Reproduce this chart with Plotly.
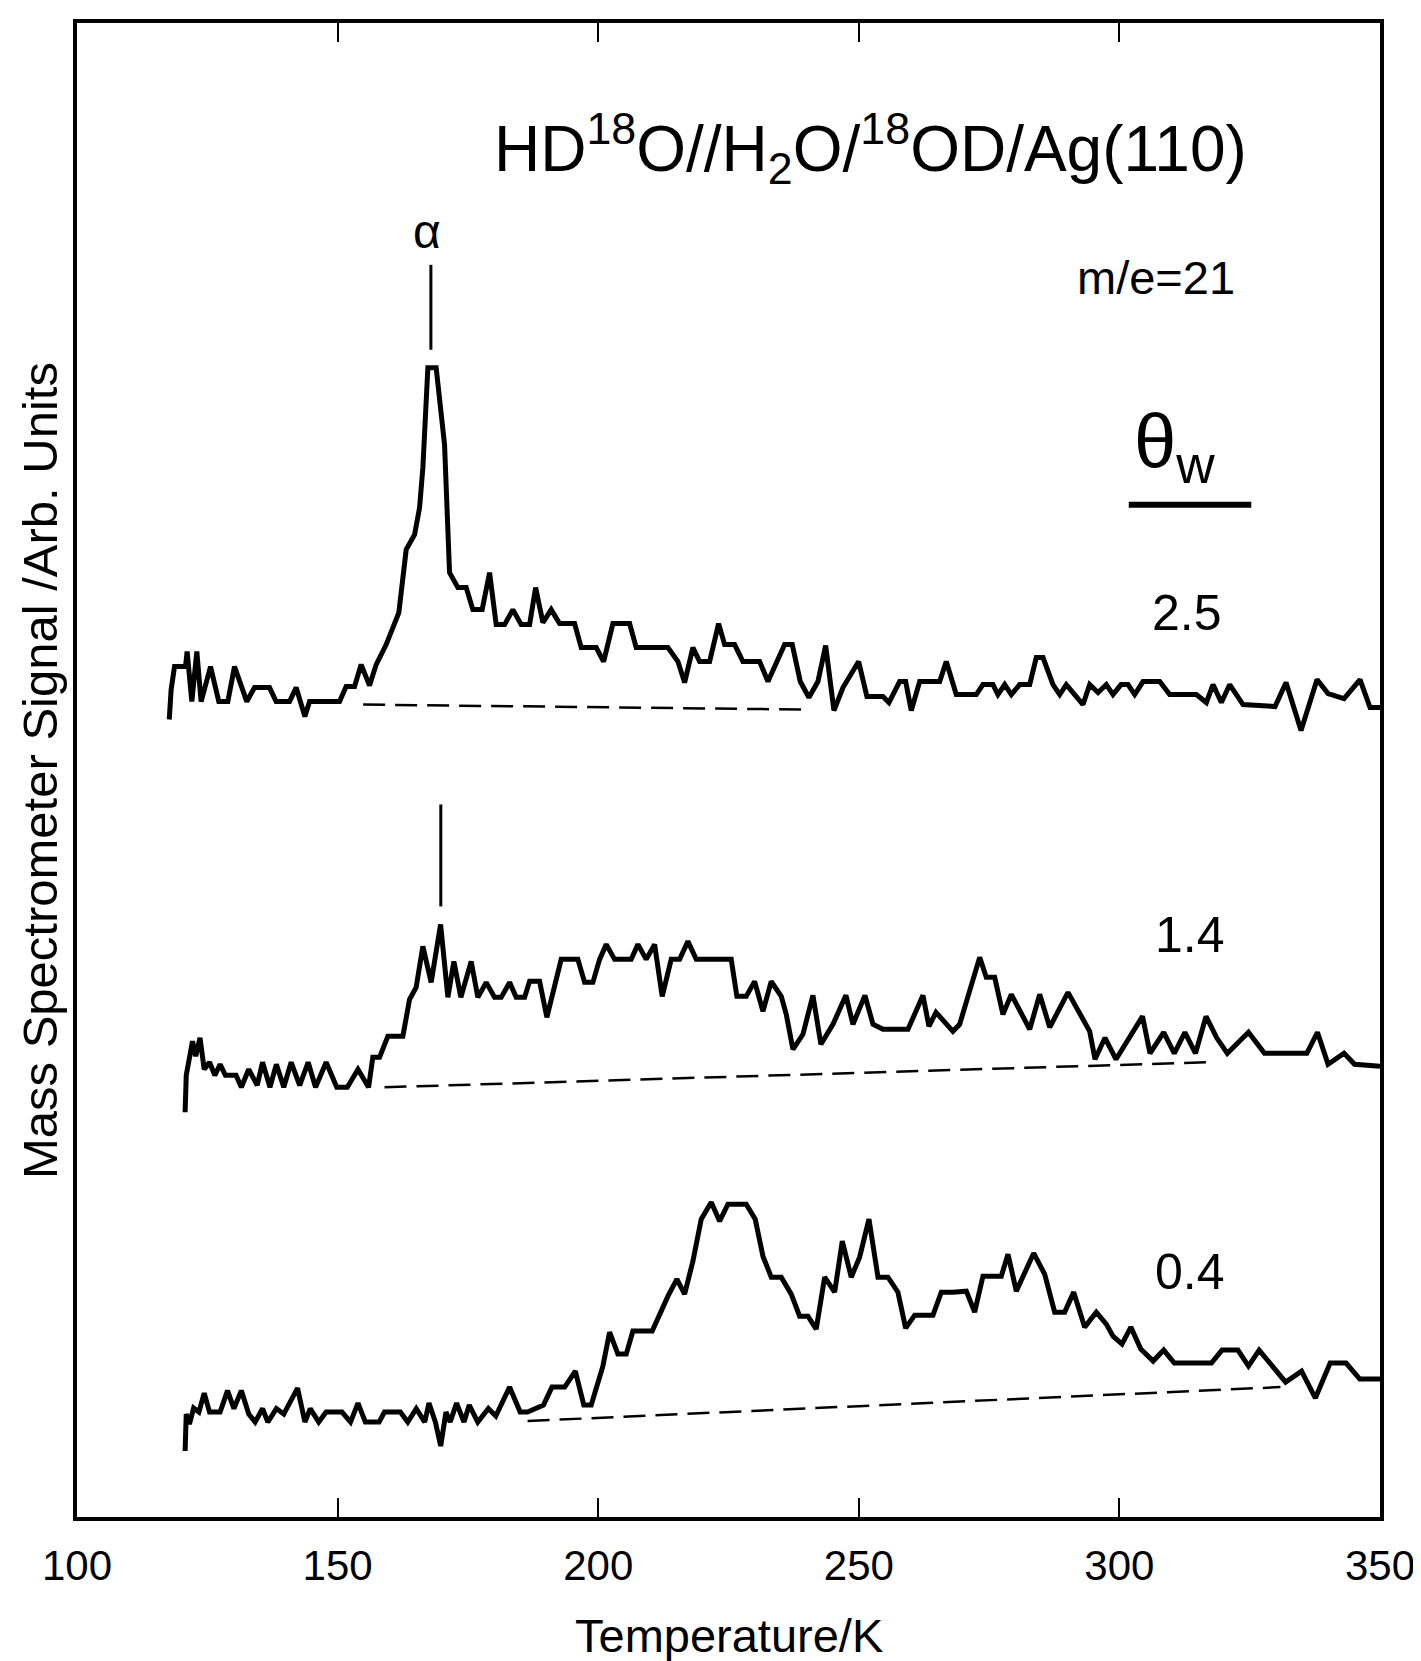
import plotly.graph_objects as go

# ---------------- data (Temperature / K, signal / arb. units) ----------------
# theta_w = 2.5
T1 = [117.7, 118.06, 118.71, 120.82, 121.13, 122.03, 122.99, 123.81, 125.62, 127.21,
      128.94, 130.22, 132.58, 134.06, 136.94, 138.21, 140.78, 142.05, 143.72, 144.62,
      150.37, 151.64, 153.25, 154.52, 156.13, 157.40, 159.32, 160.60, 161.75, 163.16,
      164.77, 165.73, 166.36, 167.32, 168.91, 170.52, 171.48, 173.08, 174.67, 175.95,
      177.74, 179.16, 180.43, 182.04, 183.63, 185.22, 186.84, 187.99, 189.39, 190.98,
      192.59, 195.47, 196.74, 199.62, 201.04, 202.82, 206.03, 207.29, 213.38, 215.30,
      216.58, 218.17, 219.46, 221.38, 223.10, 224.26, 226.17, 227.77, 230.97, 232.57,
      234.16, 235.77, 237.23, 238.77, 240.43, 242.16, 243.64, 245.23, 246.96, 249.97,
      251.56, 254.63, 255.78, 257.84, 258.99, 260.07, 261.68, 265.52, 266.78, 268.70,
      272.54, 273.82, 275.74, 276.70, 277.99, 279.26, 280.87, 282.79, 284.05, 285.34,
      287.26, 288.55, 289.81, 291.73, 293.02, 294.30, 295.90, 297.49, 298.77, 300.31,
      301.65, 302.94, 304.53, 307.74, 309.65, 314.76, 316.68, 317.96, 319.56, 321.17,
      322.76, 323.72, 329.86, 331.97, 334.85, 337.92, 340.03, 343.10, 346.17, 348.09,
      350.0]
S1 = [79.8, 82.8, 85.1, 85.1, 86.6, 81.6, 86.6, 81.6, 85.1, 81.6,
      81.6, 85.1, 81.6, 83.0, 83.0, 81.6, 81.6, 83.0, 80.1, 81.6,
      81.6, 83.1, 83.1, 85.3, 83.2, 85.3, 87.3, 89.0, 90.5, 96.8,
      98.3, 101.0, 105.0, 115.0, 115.0, 107.3, 94.5, 93.0, 93.0, 90.8,
      90.8, 94.5, 89.3, 89.3, 90.8, 89.3, 89.3, 93.0, 89.5, 90.8,
      89.4, 89.4, 87.0, 87.0, 85.6, 89.4, 89.4, 87.0, 87.0, 85.6,
      83.5, 87.0, 85.6, 85.6, 89.4, 87.3, 87.3, 85.6, 85.6, 83.6,
      85.6, 87.3, 87.3, 83.6, 82.0, 83.6, 87.2, 80.7, 83.0, 85.6,
      82.1, 82.1, 81.5, 83.6, 83.6, 80.7, 83.6, 83.6, 85.6, 82.3,
      82.3, 83.3, 83.3, 82.3, 83.3, 82.3, 83.3, 83.3, 86.0, 86.0,
      83.3, 82.3, 83.3, 82.1, 81.3, 83.3, 82.5, 83.3, 82.3, 83.3,
      83.3, 82.3, 83.6, 83.6, 82.3, 82.3, 81.5, 83.3, 81.5, 83.3,
      82.1, 81.3, 81.1, 83.5, 78.7, 83.8, 82.4, 81.9, 83.8, 81.0,
      81.0]

# theta_w = 1.4
T2 = [120.74, 120.96, 122.16, 122.78, 123.60, 124.41, 125.43, 126.44, 127.46, 128.48,
      130.51, 131.53, 132.95, 134.58, 135.60, 137.02, 138.25, 139.67, 141.09, 142.72,
      144.35, 145.77, 147.80, 149.84, 151.87, 153.91, 155.94, 156.76, 158.05, 159.64,
      162.52, 163.81, 165.07, 166.36, 167.95, 169.76, 171.16, 172.31, 173.65, 175.63,
      176.91, 178.51, 180.12, 181.39, 183.00, 184.26, 185.88, 186.84, 188.75, 190.15,
      192.90, 196.10, 197.39, 198.98, 200.27, 201.54, 203.15, 206.33, 207.62, 209.21,
      210.82, 212.28, 214.01, 215.62, 217.21, 218.81, 225.52, 226.61, 228.40, 230.01,
      231.61, 233.20, 235.12, 236.08, 237.36, 239.28, 241.20, 242.73, 245.04, 247.53,
      248.88, 251.18, 252.72, 254.64, 259.44, 262.31, 263.46, 264.81, 268.06, 269.35,
      273.19, 274.46, 276.07, 277.66, 279.26, 282.79, 284.71, 286.63, 290.14, 294.30,
      295.32, 297.24, 299.35, 304.43, 305.87, 308.50, 310.53, 312.57, 314.60, 316.62,
      318.67, 320.71, 324.77, 327.83, 335.96, 338.00, 340.03, 343.10, 345.12, 350.0]
S2 = [40.5, 44.2, 47.6, 46.1, 47.95, 44.8, 45.5, 44.2, 45.3, 44.2,
      44.2, 43.0, 44.8, 43.2, 45.5, 43.0, 45.3, 43.0, 45.5, 43.2,
      45.5, 43.0, 45.5, 43.0, 43.0, 44.8, 43.0, 46.0, 46.0, 48.1,
      48.1, 51.8, 53.0, 57.1, 53.5, 59.3, 52.0, 55.6, 52.0, 55.6,
      52.0, 53.5, 52.0, 52.0, 53.5, 52.0, 52.0, 53.6, 53.6, 50.0,
      55.8, 55.8, 53.5, 53.5, 55.8, 57.3, 55.8, 55.8, 57.3, 55.8,
      57.3, 52.1, 55.8, 55.8, 57.6, 55.8, 55.8, 52.1, 52.1, 53.6,
      50.6, 53.6, 52.1, 50.3, 46.8, 48.3, 52.2, 47.3, 49.3, 52.2,
      49.3, 52.2, 49.3, 48.8, 48.8, 52.2, 49.1, 50.5, 48.6, 49.3,
      56.0, 54.0, 54.0, 50.3, 52.3, 48.8, 52.3, 49.0, 52.5, 48.6,
      45.8, 47.95, 45.8, 50.1, 46.4, 48.5, 46.4, 48.5, 46.4, 50.1,
      47.95, 46.4, 48.5, 46.4, 46.4, 48.5, 45.3, 46.4, 45.3, 45.1]

# theta_w = 0.4
T3 = [120.74, 120.96, 121.57, 122.38, 123.39, 124.41, 125.43, 127.46, 128.88, 130.11,
      131.53, 132.95, 134.18, 135.60, 136.61, 138.25, 139.67, 141.09, 142.31, 143.73,
      144.75, 146.38, 147.80, 150.85, 152.48, 153.91, 155.33, 157.97, 158.99, 162.04,
      163.46, 165.09, 166.72, 167.53, 168.76, 169.78, 170.79, 171.60, 172.83, 174.25,
      175.26, 176.90, 178.93, 180.35, 183.00, 185.03, 186.45, 189.50, 191.13, 193.57,
      195.61, 197.24, 198.66, 200.9, 202.19, 203.78, 205.38, 206.66, 210.36, 213.38,
      215.10, 216.58, 218.17, 219.77, 221.69, 223.30, 224.89, 228.40, 230.13, 231.61,
      233.20, 235.12, 237.04, 238.65, 240.24, 241.83, 243.45, 245.37, 246.83, 248.55,
      250.16, 251.95, 253.68, 255.59, 257.51, 258.99, 260.72, 264.23, 265.83, 268.06,
      270.63, 272.23, 273.82, 277.34, 278.62, 280.22, 283.55, 285.66, 287.58, 289.50,
      291.23, 293.34, 295.57, 297.49, 298.77, 300.5, 302.2, 304.1, 306.47, 308.50,
      310.53, 317.66, 319.69, 322.74, 324.77, 326.81, 330.47, 331.89, 334.95, 337.60,
      340.44, 343.49, 346.13, 350.0]
S3 = [6.6, 10.3, 9.3, 10.9, 10.5, 12.4, 10.5, 10.5, 12.65, 10.85,
      12.65, 10.3, 9.5, 10.85, 9.5, 10.85, 10.3, 11.6, 12.9, 9.5,
      10.85, 9.5, 10.5, 10.5, 9.5, 11.4, 9.5, 9.5, 10.5, 10.5,
      9.5, 10.85, 9.5, 11.4, 9.5, 7.1, 10.5, 9.5, 11.4, 9.5,
      11.2, 9.5, 10.85, 10.1, 13.0, 10.5, 10.5, 11.2, 13.0, 13.0,
      14.6, 11.2, 11.2, 15.1, 18.5, 16.3, 16.3, 18.6, 18.6, 22.1,
      23.8, 22.3, 25.6, 29.8, 31.5, 29.6, 31.3, 31.3, 29.8, 26.1,
      24.0, 24.0, 22.3, 20.1, 20.1, 18.8, 24.0, 22.5, 27.6, 24.0,
      26.0, 29.8, 24.0, 24.0, 22.5, 18.9, 20.2, 20.2, 22.5, 22.5,
      22.6, 20.5, 24.1, 24.1, 26.3, 22.6, 26.4, 24.3, 20.5, 20.5,
      22.5, 19.0, 20.5, 19.3, 18.1, 17.3, 19.0, 16.8, 15.6, 16.7,
      15.4, 15.4, 16.7, 16.7, 15.1, 16.7, 14.4, 13.5, 14.6, 11.9,
      15.4, 15.4, 13.8, 13.8]

# dashed background lines (start/end)
BASE_T = [[154.9, 239.3], [159.0, 316.6], [186.45, 330.9]]
BASE_S = [[81.3, 80.8], [43.0, 45.5], [9.6, 13.0]]

# alpha peak markers
MARK_T = [167.9, 169.8]
MARK_S = [[116.8, 125.3], [61.1, 71.3]]

COVERAGES = ["2.5", "1.4", "0.4"]
COV_T = [313.0, 313.6, 313.6]
COV_S = [90.5, 58.2, 24.5]

X_TICKS = [100, 150, 200, 250, 300, 350]

FONT = "Liberation Sans, Arial, Helvetica, sans-serif"

fig = go.Figure()

for T, S in [(T1, S1), (T2, S2), (T3, S3)]:
    fig.add_trace(go.Scatter(x=T, y=S, mode="lines",
                             line=dict(color="black", width=5),
                             showlegend=False, hoverinfo="skip"))

for bt, bs in zip(BASE_T, BASE_S):
    fig.add_trace(go.Scatter(x=bt, y=bs, mode="lines",
                             line=dict(color="black", width=2.5, dash="22px,10px"),
                             showlegend=False, hoverinfo="skip"))

for mt, ms in zip(MARK_T, MARK_S):
    fig.add_trace(go.Scatter(x=[mt, mt], y=ms, mode="lines",
                             line=dict(color="black", width=3),
                             showlegend=False, hoverinfo="skip"))

annotations = [
    dict(text="HD<sup>18</sup>O//H<sub>2</sub>O/<sup>18</sup>OD/Ag(110)",
         x=252.3, y=137.0, xref="x", yref="y", showarrow=False,
         font=dict(size=64, color="black", family=FONT), xanchor="center", yanchor="middle"),
    dict(text="α", x=167.1, y=128.6, xref="x", yref="y", showarrow=False,
         font=dict(size=48, color="black", family=FONT), xanchor="center", yanchor="middle"),
    dict(text="m/e=21", x=307.0, y=124.0, xref="x", yref="y", showarrow=False,
         font=dict(size=47, color="black", family=FONT), xanchor="center", yanchor="middle"),
    dict(text="θ<sub>w</sub>", x=310.5, y=107.2, xref="x", yref="y", showarrow=False,
         font=dict(size=76, color="black", family=FONT), xanchor="center", yanchor="middle"),
    dict(text="Temperature/K", x=0.5, y=-0.079, xref="paper", yref="paper", showarrow=False,
         font=dict(size=47, color="black", family=FONT), xanchor="center", yanchor="middle"),
    dict(text="Mass Spectrometer Signal /Arb. Units", x=-0.0284, y=0.5,
         xref="paper", yref="paper", showarrow=False, textangle=-90,
         font=dict(size=49, color="black", family=FONT), xanchor="center", yanchor="middle"),
]
for lab, ct, cs in zip(COVERAGES, COV_T, COV_S):
    annotations.append(dict(text=lab, x=ct, y=cs, xref="x", yref="y", showarrow=False,
                            font=dict(size=50, color="black", family=FONT),
                            xanchor="center", yanchor="middle"))

fig.update_layout(
    width=1421, height=1661,
    margin=dict(l=69, r=49, t=15, b=152),
    paper_bgcolor="white", plot_bgcolor="white",
    font=dict(family=FONT, color="black"),
    annotations=annotations,
    shapes=[dict(type="line", xref="x", yref="y", x0=301.8, x1=325.3, y0=101.3, y1=101.3,
                 line=dict(color="black", width=6))],
)

fig.update_xaxes(range=[100, 350], tickvals=X_TICKS, ticktext=[str(v) for v in X_TICKS],
                 ticks="inside", ticklen=19, tickwidth=2, tickcolor="black",
                 showline=True, linecolor="black", linewidth=3.5, mirror="ticks",
                 showgrid=False, zeroline=False, ticklabelstandoff=9,
                 tickfont=dict(size=42, color="black", family=FONT))
fig.update_yaxes(range=[0, 149.5], showticklabels=False, ticks="",
                 showline=True, linecolor="black", linewidth=3.5, mirror=True,
                 showgrid=False, zeroline=False)

fig.write_html("out.html")
